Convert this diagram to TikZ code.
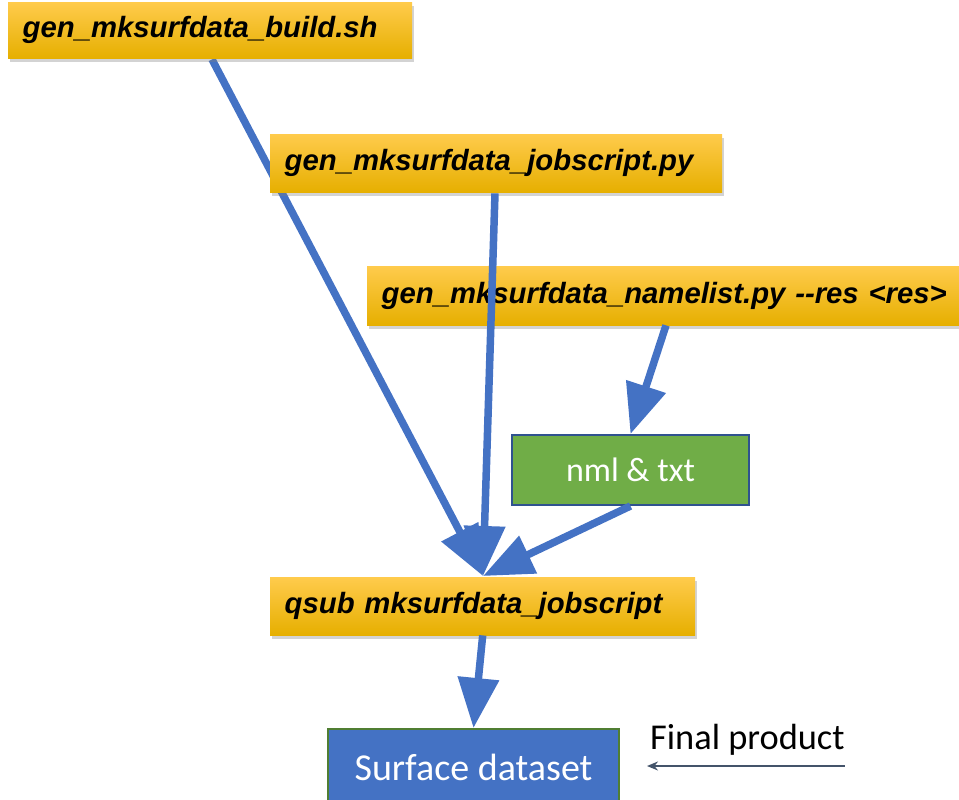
\documentclass[tikz,border=0pt]{standalone}
\usepackage{fontspec}
\usetikzlibrary{arrows.meta,shadows,calc}
\newfontfamily\boxfont{Liberation Sans}
\newfontfamily\labfont{Carlito}
\definecolor{goldtop}{HTML}{FFCB4C}
\definecolor{goldmid}{HTML}{FFC000}
\definecolor{goldbot}{HTML}{E6AF00}
\definecolor{flowblue}{HTML}{4472C4}
\definecolor{leafgreen}{HTML}{70AD47}
\definecolor{navyedge}{HTML}{2F528F}
\definecolor{darkgreen}{HTML}{507E32}
\definecolor{slate}{HTML}{44546A}
\pgfdeclarelayer{under}
\pgfsetlayers{under,main}
\tikzset{
  ybox/.style={rectangle, anchor=north west, inner xsep=14.5pt, inner ysep=0pt,
    align=left, top color=goldtop, middle color=goldmid, bottom color=goldbot,
    drop shadow={shadow xshift=2pt, shadow yshift=-4pt, opacity=0.35},
    font=\boxfont\bfseries\itshape\fontsize{29.3}{35}\selectfont},
  flow/.style={draw=flowblue, line width=7.5pt,
    -{Triangle[length=50pt,width=40pt]}},
  filebox/.style={rectangle, anchor=north west, inner sep=0pt, line width=2pt,
    text=white},
}
\begin{document}
\begin{tikzpicture}[x=1pt,y=-1pt]
\useasboundingbox (0,0) rectangle (959,800);
\clip (0,0) rectangle (959,800);

% script boxes
\node[ybox, text width=375pt, minimum height=56pt] (build) at (8,2) {gen\_mksurfdata\_build.sh};
\node[ybox, text width=423pt, minimum height=58pt] (jobs) at (270,134) {gen\_mksurfdata\_jobscript.py};
\node[ybox, text width=594pt, minimum height=59pt] (nlist) at (367,266) {gen\_mksurfdata\_namelist.py --res <res>};
\node[ybox, text width=396pt, minimum height=58pt] (qsub) at (270,577) {qsub mksurfdata\_jobscript};

% generated files and product
\node[filebox, draw=navyedge, fill=leafgreen, minimum width=237pt, minimum height=70pt,
  font=\labfont\fontsize{34}{40}\selectfont] (nml) at (511,434) {nml \& txt};
\node[filebox, draw=darkgreen, fill=flowblue, minimum width=291pt, minimum height=90pt] (surf) at (327,728) {};
\node[anchor=base, text=white, inner sep=0pt, font=\labfont\fontsize{38}{44}\selectfont]
  (surftxt) at ($(surf.north)+(0,52)$) {Surface dataset};

\node[anchor=base west, inner sep=0pt, font=\labfont\fontsize{36.4}{42}\selectfont]
  (fp) at (650,749) {Final product};

% meeting point of the three inputs
\coordinate (hub) at ($(qsub.north west)+(213,-1)$);

\begin{pgfonlayer}{under}
  \draw[flow] ($(build.south west)+(204,1)$) -- (hub);
\end{pgfonlayer}
\draw[flow] ($(jobs.south west)+(225,1)$) -- (hub);
\draw[flow] (nml.south) -- (hub);
\draw[flow] ($(nlist.south west)+(299,0)$) -- (nml.north);
\draw[flow] (qsub.south) -- (surf.north);

\draw[draw=slate, line width=2pt, -{Stealth[length=11pt,width=9pt]}]
  ($(fp.base east)+(0,17)$) -- ($(fp.base west)+(-3,17)$);
\end{tikzpicture}
\end{document}
